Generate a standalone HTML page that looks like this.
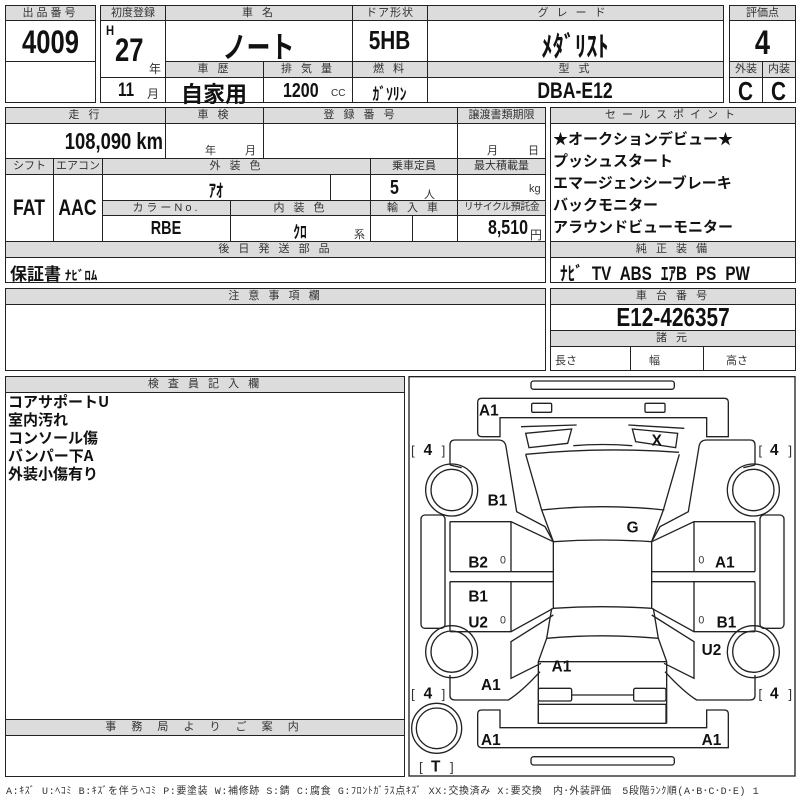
<!DOCTYPE html>
<html><head><meta charset="utf-8"><style>
*{box-sizing:border-box;margin:0;padding:0}
body{width:800px;height:800px;background:#fff;position:relative;overflow:hidden;font-family:"Liberation Sans","Noto Sans CJK JP",sans-serif;color:#111}
.b{position:absolute;border:1.5px solid #222}
.h{position:absolute;background:#dcdcdc;border:1px solid #222;font-size:11px;text-align:center;line-height:14px;letter-spacing:3px;color:#333;white-space:nowrap;overflow:hidden}
.v{position:absolute;text-align:center;font-family:"Liberation Sans","Noto Sans CJK JP",sans-serif;font-weight:bold;white-space:nowrap;transform:scaleX(.8)}
.lo{transform-origin:left center}
.s{position:absolute;font-size:11px;color:#333}
.l{position:absolute;border-left:1px solid #222}
.t{position:absolute;border-top:1px solid #222}
</style></head><body>
<!-- block 1 -->
<div class="b" style="left:5px;top:5px;width:91px;height:98px"></div>
<div class="h" style="left:5px;top:5px;width:91px;height:16px">出品番号</div>
<div class="t" style="left:5px;top:61px;width:91px"></div>
<div class="v" style="left:5px;top:24px;width:91px;font-size:32px">4009</div>

<div class="b" style="left:100px;top:5px;width:624px;height:98px"></div>
<div class="h" style="left:100px;top:5px;width:66px;height:16px;letter-spacing:0">初度登録</div>
<div class="h" style="left:165px;top:5px;width:188px;height:16px">車 名</div>
<div class="h" style="left:352px;top:5px;width:76px;height:16px;letter-spacing:1px">ドア形状</div>
<div class="h" style="left:427px;top:5px;width:297px;height:16px;letter-spacing:8px">グレード</div>
<div class="l" style="left:165px;top:5px;height:98px"></div>
<div class="l" style="left:352px;top:5px;height:98px"></div>
<div class="l" style="left:427px;top:5px;height:98px"></div>
<div class="l" style="left:263px;top:61px;height:42px"></div>
<div class="t" style="left:100px;top:77px;width:65px"></div>
<div class="h" style="left:165px;top:61px;width:99px;height:17px">車 歴</div>
<div class="h" style="left:263px;top:61px;width:90px;height:17px">排 気 量</div>
<div class="h" style="left:352px;top:61px;width:76px;height:17px">燃 料</div>
<div class="h" style="left:427px;top:61px;width:297px;height:17px">型 式</div>
<div class="v lo" style="left:106px;top:22px;font-size:14px">H</div>
<div class="v lo" style="left:115px;top:32px;font-size:32px">27</div>
<div class="s" style="left:149px;top:60px;font-size:12px">年</div>
<div class="v lo" style="left:118px;top:80px;font-size:19px">11</div>
<div class="s" style="left:147px;top:85px;font-size:12px">月</div>
<div class="v" style="left:165px;top:23px;width:187px;font-size:30px">ノート</div>
<div class="v" style="left:165px;top:77px;width:98px;font-size:22px;transform:none">自家用</div>
<div class="v lo" style="left:283px;top:80px;font-size:20px">1200</div>
<div class="s" style="left:331px;top:88px;font-size:10px">CC</div>
<div class="v" style="left:352px;top:80px;width:75px;font-size:17px">ｶﾞｿﾘﾝ</div>
<div class="v" style="left:352px;top:25px;width:75px;font-size:26px">5HB</div>
<div class="v" style="left:427px;top:25px;width:296px;font-size:28px">ﾒﾀﾞﾘｽﾄ</div>
<div class="v" style="left:427px;top:78px;width:296px;font-size:22px">DBA-E12</div>

<div class="b" style="left:729px;top:5px;width:67px;height:98px"></div>
<div class="h" style="left:729px;top:5px;width:67px;height:16px;letter-spacing:0">評価点</div>
<div class="h" style="left:729px;top:61px;width:34px;height:17px;letter-spacing:0">外装</div>
<div class="h" style="left:762px;top:61px;width:34px;height:17px;letter-spacing:0">内装</div>
<div class="l" style="left:762px;top:61px;height:42px"></div>
<div class="v" style="left:729px;top:24px;width:67px;font-size:34px">4</div>
<div class="v" style="left:729px;top:76px;width:33px;font-size:26px">C</div>
<div class="v" style="left:762px;top:76px;width:33px;font-size:26px">C</div>

<!-- block 2 -->
<div class="b" style="left:5px;top:107px;width:541px;height:176px"></div>
<div class="h" style="left:5px;top:107px;width:161px;height:17px">走 行</div>
<div class="h" style="left:165px;top:107px;width:99px;height:17px">車 検</div>
<div class="h" style="left:263px;top:107px;width:195px;height:17px">登 録 番 号</div>
<div class="h" style="left:457px;top:107px;width:89px;height:17px;letter-spacing:0">譲渡書類期限</div>
<div class="l" style="left:165px;top:107px;height:51px"></div>
<div class="l" style="left:263px;top:107px;height:51px"></div>
<div class="l" style="left:457px;top:107px;height:134px"></div>
<div class="v" style="left:5px;top:128px;width:158px;text-align:right;font-size:23px;transform-origin:right center">108,090 km</div>
<div class="s" style="left:205px;top:142px">年</div><div class="s" style="left:245px;top:142px">月</div>
<div class="s" style="left:487px;top:142px">月</div><div class="s" style="left:528px;top:142px">日</div>
<div class="h" style="left:5px;top:158px;width:49px;height:17px;letter-spacing:0">シフト</div>
<div class="h" style="left:53px;top:158px;width:50px;height:17px;letter-spacing:0">エアコン</div>
<div class="h" style="left:102px;top:158px;width:269px;height:17px">外 装 色</div>
<div class="h" style="left:370px;top:158px;width:88px;height:17px;letter-spacing:0">乗車定員</div>
<div class="h" style="left:457px;top:158px;width:89px;height:17px;letter-spacing:0">最大積載量</div>
<div class="l" style="left:53px;top:158px;height:83px"></div>
<div class="l" style="left:102px;top:158px;height:83px"></div>
<div class="l" style="left:370px;top:158px;height:83px"></div>
<div class="l" style="left:330px;top:174px;height:26px"></div>
<div class="l" style="left:412px;top:215px;height:26px"></div>
<div class="h" style="left:102px;top:200px;width:129px;height:16px">カラーNo.</div>
<div class="h" style="left:230px;top:200px;width:141px;height:16px">内 装 色</div>
<div class="h" style="left:370px;top:200px;width:88px;height:16px">輸 入 車</div>
<div class="h" style="left:457px;top:200px;width:89px;height:16px;letter-spacing:-0.5px;font-size:10px">リサイクル預託金</div>
<div class="l" style="left:230px;top:200px;height:41px"></div>
<div class="v" style="left:5px;top:195px;width:48px;font-size:22px">FAT</div>
<div class="v" style="left:53px;top:195px;width:49px;font-size:22px">AAC</div>
<div class="v" style="left:102px;top:177px;width:228px;font-size:18px">ｱｵ</div>
<div class="v lo" style="left:390px;top:177px;font-size:20px">5</div><div class="s" style="left:424px;top:186px">人</div>
<div class="s" style="left:529px;top:183px">kg</div>
<div class="v" style="left:102px;top:218px;width:128px;font-size:18px">RBE</div>
<div class="v" style="left:230px;top:218px;width:140px;font-size:17px">ｸﾛ</div>
<div class="s" style="left:354px;top:226px">系</div>
<div class="v" style="left:460px;top:217px;width:68px;text-align:right;transform-origin:right center;font-size:20px">8,510</div><div class="s" style="left:530px;top:226px;font-size:12px">円</div>
<div class="h" style="left:5px;top:241px;width:541px;height:17px">後 日 発 送 部 品</div>
<div class="v lo" style="left:10px;top:260px;font-size:17px;font-family:'Noto Sans CJK JP',sans-serif;transform:none">保証書 <span style="font-size:13px">ﾅﾋﾞﾛﾑ</span></div>

<div class="b" style="left:550px;top:107px;width:246px;height:176px"></div>
<div class="h" style="left:550px;top:107px;width:246px;height:17px;letter-spacing:6px">セールスポイント</div>
<div style="position:absolute;left:553px;top:128px;font-size:15px;font-weight:bold;line-height:22px;font-family:'Noto Sans CJK JP',sans-serif">★オークションデビュー★<br>プッシュスタート<br>エマージェンシーブレーキ<br>バックモニター<br>アラウンドビューモニター</div>
<div class="h" style="left:550px;top:241px;width:246px;height:17px">純 正 装 備</div>
<div class="v lo" style="left:560px;top:259px;font-size:19px;word-spacing:6px">ﾅﾋﾞ TV ABS ｴｱB PS PW</div>

<!-- block 3 -->
<div class="b" style="left:5px;top:288px;width:541px;height:83px"></div>
<div class="h" style="left:5px;top:288px;width:541px;height:17px">注 意 事 項 欄</div>
<div class="b" style="left:550px;top:288px;width:246px;height:83px"></div>
<div class="h" style="left:550px;top:288px;width:246px;height:17px">車 台 番 号</div>
<div class="v" style="left:550px;top:302px;width:246px;font-size:26px">E12-426357</div>
<div class="h" style="left:550px;top:330px;width:246px;height:17px">諸 元</div>
<div class="l" style="left:630px;top:346px;height:25px"></div>
<div class="l" style="left:703px;top:346px;height:25px"></div>
<div class="s" style="left:555px;top:352px">長さ</div><div class="s" style="left:649px;top:352px">幅</div><div class="s" style="left:726px;top:352px">高さ</div>

<!-- block 4 -->
<div class="b" style="left:5px;top:376px;width:400px;height:401px"></div>
<div class="h" style="left:5px;top:376px;width:400px;height:17px">検 査 員 記 入 欄</div>
<div style="position:absolute;left:8px;top:393px;font-size:15px;font-weight:bold;line-height:18px;font-family:'Noto Sans CJK JP',sans-serif">コアサポートU<br>室内汚れ<br>コンソール傷<br>バンパー下A<br>外装小傷有り</div>
<div class="h" style="left:5px;top:719px;width:400px;height:17px;letter-spacing:6px">事 務 局 よ り ご 案 内</div>

<svg style="position:absolute;left:405px;top:375px" width="395" height="425" viewBox="0 0 1185 1275">
<g fill="none" stroke="#222" stroke-width="4">
<rect x="12" y="5" width="1158" height="1198"/>
<rect x="378" y="18" width="430" height="25" rx="8"/>
<rect x="378" y="1145" width="430" height="25" rx="8"/>
<path d="M230,70 L958,70 Q970,70 970,82 L970,185 L905,185 L905,128 L285,128 L285,185 L230,185 Q218,185 218,173 L218,82 Q218,70 230,70 Z"/>
<path d="M230,1005 L285,1005 L285,1058 L905,1058 L905,1005 L958,1005 Q970,1005 970,1017 L970,1118 L230,1118 Q218,1118 218,1106 L218,1017 Q218,1005 230,1005 Z"/>
<rect x="380" y="85" width="60" height="27" rx="4"/>
<rect x="720" y="85" width="60" height="27" rx="4"/>
<path d="M348,155 L515,150 M670,150 L838,160"/>
<path d="M362,175 L500,162 L488,205 L372,218 Z M682,162 L818,175 L812,218 L692,200 Z"/>
<path d="M505,212 Q592,205 682,212"/>
<path d="M362,238 Q592,215 822,232"/>
<path d="M410,405 Q592,385 778,405"/>
<path d="M445,500 Q592,490 740,500 M445,700 Q592,690 740,700"/>
<path d="M425,790 Q592,775 760,790"/>
<path d="M400,860 L785,860"/>
<rect x="400" y="940" width="100" height="38" rx="5"/>
<rect x="686" y="940" width="97" height="38" rx="5"/>
<path d="M500,960 L686,960"/>
<rect x="400" y="988" width="383" height="57"/>
<g id="half">
<path d="M135,270 L135,210 Q135,195 150,195 L280,195 Q300,195 303,215 L335,410 L420,455 L445,500"/>
<path d="M135,270 L170,278"/>
<path d="M362,238 L410,405 L445,500"/>
<path d="M135,440 L318,440 L445,500 M135,590 L445,590 M318,440 L318,590 M135,440 L135,590"/>
<path d="M135,620 L445,620 M135,770 L318,770 L445,700 M318,620 L318,770 M135,620 L135,770"/>
<path d="M445,500 L445,700"/>
<rect x="48" y="420" width="72" height="340" rx="12"/>
<circle cx="140" cy="345" r="78"/><circle cx="140" cy="345" r="62"/>
<circle cx="140" cy="830" r="78"/><circle cx="140" cy="830" r="62"/>
<path d="M440,700 L425,790 L400,860 L400,1045"/>
<path d="M445,720 L318,800 L318,910 L408,865"/>
<path d="M135,900 L135,962 Q135,975 150,975 L310,975 Q350,950 405,890"/>
</g>
<use href="#half" transform="translate(1185,0) scale(-1,1)"/>
<ellipse cx="95" cy="1060" rx="75" ry="75"/><ellipse cx="95" cy="1060" rx="61" ry="61"/>
</g>
<g font-family="Liberation Sans, sans-serif" font-weight="bold" font-size="46" fill="#111">
<text x="222" y="122">A1</text>
<text x="740" y="212">X</text>
<text x="248" y="392">B1</text>
<text x="665" y="472">G</text>
<text x="190" y="577">B2</text>
<text x="930" y="577">A1</text>
<text x="190" y="680">B1</text>
<text x="190" y="757">U2</text>
<text x="935" y="757">B1</text>
<text x="890" y="840">U2</text>
<text x="440" y="890">A1</text>
<text x="228" y="945">A1</text>
<text x="228" y="1110">A1</text>
<text x="890" y="1110">A1</text>
<text x="78" y="1190">T</text>
<text x="56" y="240">4</text><text x="1095" y="240">4</text>
<text x="56" y="970">4</text><text x="1095" y="970">4</text>
</g>
<g font-family="Liberation Sans, sans-serif" font-size="40" fill="#333">
<text x="18" y="240">[</text><text x="110" y="240">]</text>
<text x="1060" y="240">[</text><text x="1150" y="240">]</text>
<text x="18" y="970">[</text><text x="110" y="970">]</text>
<text x="1060" y="970">[</text><text x="1150" y="970">]</text>
<text x="42" y="1190">[</text><text x="135" y="1190">]</text>
<text x="285" y="565" font-size="32">0</text><text x="285" y="745" font-size="32">0</text>
<text x="880" y="565" font-size="32">0</text><text x="880" y="745" font-size="32">0</text>
</g>
</svg>
<div class="s" style="left:6px;top:782px;font-size:10px;white-space:nowrap;letter-spacing:0.6px;font-family:'Liberation Mono','Noto Sans CJK JP',monospace">A:ｷｽﾞ U:ﾍｺﾐ B:ｷｽﾞを伴うﾍｺﾐ P:要塗装 W:補修跡 S:錆 C:腐食 G:ﾌﾛﾝﾄｶﾞﾗｽ点ｷｽﾞ XX:交換済み X:要交換　内･外装評価　5段階ﾗﾝｸ順(A･B･C･D･E) 1</div>
</body></html>
